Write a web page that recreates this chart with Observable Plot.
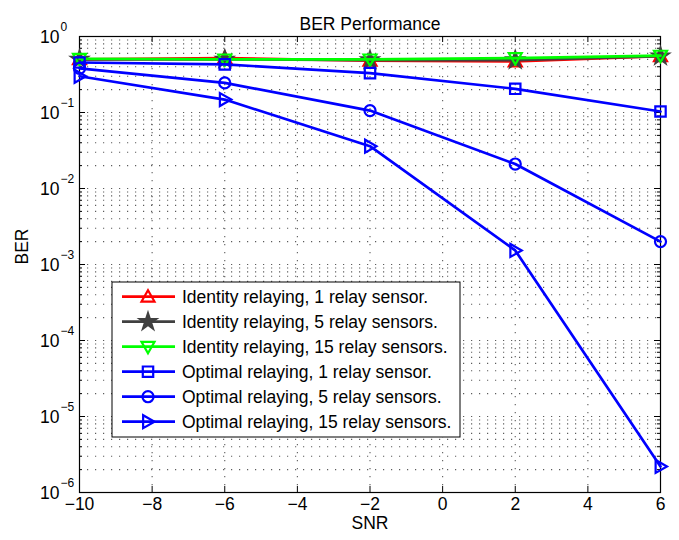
<!DOCTYPE html>
<html>
<head>
<meta charset="utf-8">
<script src="https://cdn.jsdelivr.net/npm/d3@7"></script>
<script src="https://cdn.jsdelivr.net/npm/@observablehq/plot@0.6"></script>
<style>
  html, body { margin: 0; padding: 0; background: #fff; }
  #chart svg { display: block; }
</style>
</head>
<body>
<div id="chart"></div>
<script>
// ---- data ----
const snr = [-10, -6, -2, 2, 6];
const identity1 = [0.50, 0.52, 0.48, 0.47, 0.55];
const identity5 = [0.50, 0.50, 0.49, 0.49, 0.55];
const identity15 = [0.51, 0.50, 0.50, 0.52, 0.56];
const optimal1 = [0.455, 0.43, 0.33, 0.205, 0.103];
const optimal5 = [0.38, 0.245, 0.106, 0.021, 0.002];
const optimal15 = [0.30, 0.148, 0.036, 0.00153, 0.0000022];
const seriesNames = [
  "Identity relaying, 1 relay sensor.",
  "Identity relaying, 5 relay sensors.",
  "Identity relaying, 15 relay sensors.",
  "Optimal relaying, 1 relay sensor.",
  "Optimal relaying, 5 relay sensors.",
  "Optimal relaying, 15 relay sensors."
];
const xTicks = [-10, -8, -6, -4, -2, 0, 2, 4, 6];
const yDecades = [1e-6, 1e-5, 1e-4, 1e-3, 1e-2, 1e-1, 1];
const yExponents = ["−6", "−5", "−4", "−3", "−2", "−1", "0"];
const minorMultipliers = [2, 3, 4, 5, 6, 7, 8, 9];

// ---- symbols ----
const symTriUp = {draw(c, size) { const r = Math.sqrt(size / Math.PI); c.moveTo(0, -r); c.lineTo(r, r * 0.75); c.lineTo(-r, r * 0.75); c.closePath(); }};
const symTriDown = {draw(c, size) { const r = Math.sqrt(size / Math.PI); c.moveTo(0, r); c.lineTo(r, -r * 0.75); c.lineTo(-r, -r * 0.75); c.closePath(); }};
const symTriRight = {draw(c, size) { const r = Math.sqrt(size / Math.PI); c.moveTo(r, 0); c.lineTo(-r * 0.75, -r); c.lineTo(-r * 0.75, r); c.closePath(); }};
const symSquare = {draw(c, size) { const r = Math.sqrt(size / Math.PI) * 0.8; c.rect(-r, -r, 2 * r, 2 * r); }};
const symCircle = {draw(c, size) { const r = Math.sqrt(size / Math.PI) * 0.85; c.moveTo(r, 0); c.arc(0, 0, r, 0, 2 * Math.PI); }};
const symStar = {draw(c, size) { d3.symbolStar.draw(c, size * 0.6); }};

const series = [
  {name: seriesNames[0], values: identity1, color: "#ff0000", symbol: symTriUp, fill: "none"},
  {name: seriesNames[1], values: identity5, color: "#404040", symbol: symStar, fill: "#404040"},
  {name: seriesNames[2], values: identity15, color: "#00ff00", symbol: symTriDown, fill: "none"},
  {name: seriesNames[3], values: optimal1, color: "#0000ff", symbol: symSquare, fill: "none"},
  {name: seriesNames[4], values: optimal5, color: "#0000ff", symbol: symCircle, fill: "none"},
  {name: seriesNames[5], values: optimal15, color: "#0000ff", symbol: symTriRight, fill: "none"}
];

const minorGrid = [];
for (const d of yDecades.slice(0, -1)) for (const m of minorMultipliers) minorGrid.push(d * m);

const W = 679, H = 540, mT = 36, mL = 79, mR = 19, mB = 48;
const fw = W - mL - mR, fh = H - mT - mB;
const font = "Liberation Sans, Arial, Helvetica, sans-serif";
const fs = 17.5;
const markerR = 6.5;

const lineMarks = [];
for (const s of series) {
  const rows = snr.map((x, i) => ({x, y: s.values[i]}));
  lineMarks.push(Plot.line(rows, {x: "x", y: "y", stroke: s.color, strokeWidth: 2.7}));
  lineMarks.push(Plot.dot(rows, {x: "x", y: "y", stroke: s.color, fill: s.fill, strokeWidth: 2.2, r: markerR, symbol: s.symbol}));
}

function legendMark(index, scales, values, dim) {
  const g = d3.create("svg:g");
  const x0 = dim.marginLeft + 33, y0 = dim.marginTop + 246;
  g.append("rect").attr("x", x0).attr("y", y0).attr("width", 348).attr("height", 155)
    .attr("fill", "white").attr("stroke", "black").attr("stroke-width", 1);
  series.forEach((s, i) => {
    const cy = y0 + 14.7 + 25 * i;
    g.append("line").attr("x1", x0 + 10).attr("x2", x0 + 63).attr("y1", cy).attr("y2", cy)
      .attr("stroke", s.color).attr("stroke-width", 2.7);
    g.append("path").attr("transform", `translate(${x0 + 36},${cy})`)
      .attr("d", d3.symbol(s.symbol, Math.PI * markerR * markerR)())
      .attr("stroke", s.color).attr("fill", s.fill).attr("stroke-width", 2.2);
    g.append("text").attr("x", x0 + 70).attr("y", cy).attr("dy", "0.36em")
      .attr("text-anchor", "start")
      .attr("font-family", font).attr("font-size", fs).attr("fill", "black").text(s.name);
  });
  return g.node();
}

const gridStyle = {stroke: "#333", strokeWidth: 1.1, strokeDasharray: "1.2,6.8", strokeOpacity: 0.8};

const chart = Plot.plot({
  width: W, height: H,
  marginTop: mT, marginLeft: mL, marginRight: mR, marginBottom: mB,
  style: {fontFamily: font, fontSize: fs + "px", background: "white", color: "black"},
  x: {domain: [-10, 6], axis: null},
  y: {type: "log", domain: [1e-6, 1], axis: null},
  marks: [
    // grid
    Plot.ruleY(minorGrid.concat(yDecades), {y: d => d, ...gridStyle}),
    Plot.ruleX(xTicks.slice(1, -1), {x: d => d, ...gridStyle}),
    // inward ticks
    Plot.tickX(xTicks, {x: d => d, insetTop: fh - 6, stroke: "black"}),
    Plot.tickX(xTicks, {x: d => d, insetBottom: fh - 6, stroke: "black"}),
    Plot.tickY(yDecades, {y: d => d, insetRight: fw - 6, stroke: "black"}),
    Plot.tickY(yDecades, {y: d => d, insetLeft: fw - 6, stroke: "black"}),
    Plot.tickY(minorGrid, {y: d => d, insetRight: fw - 3, stroke: "black"}),
    Plot.tickY(minorGrid, {y: d => d, insetLeft: fw - 3, stroke: "black"}),
    Plot.frame({stroke: "black", strokeWidth: 1.2}),
    // tick labels
    Plot.text(xTicks, {x: d => d, frameAnchor: "bottom", dy: 17, text: d => d3.format("")(d).replace("-", "−"), fontSize: fs, fill: "black"}),
    Plot.text(yDecades, {y: d => d, frameAnchor: "left", dx: -20, dy: 1, textAnchor: "end", text: () => "10", fontSize: fs, fill: "black"}),
    Plot.text(yDecades, {y: d => d, frameAnchor: "left", dx: -19, dy: -9, textAnchor: "start", text: (d, i) => yExponents[i], fontSize: 12, fill: "black"}),
    // axis labels & title
    Plot.text(["SNR"], {frameAnchor: "bottom", dy: 36, text: d => d, fontSize: fs, fill: "black"}),
    Plot.text(["BER"], {frameAnchor: "left", dx: -57, rotate: -90, text: d => d, fontSize: fs, fill: "black"}),
    Plot.text(["BER Performance"], {frameAnchor: "top", dy: -19, text: d => d, fontSize: fs, fill: "black"}),
    // data
    ...lineMarks,
    legendMark
  ]
});
document.getElementById("chart").appendChild(chart);
</script>
</body>
</html>
